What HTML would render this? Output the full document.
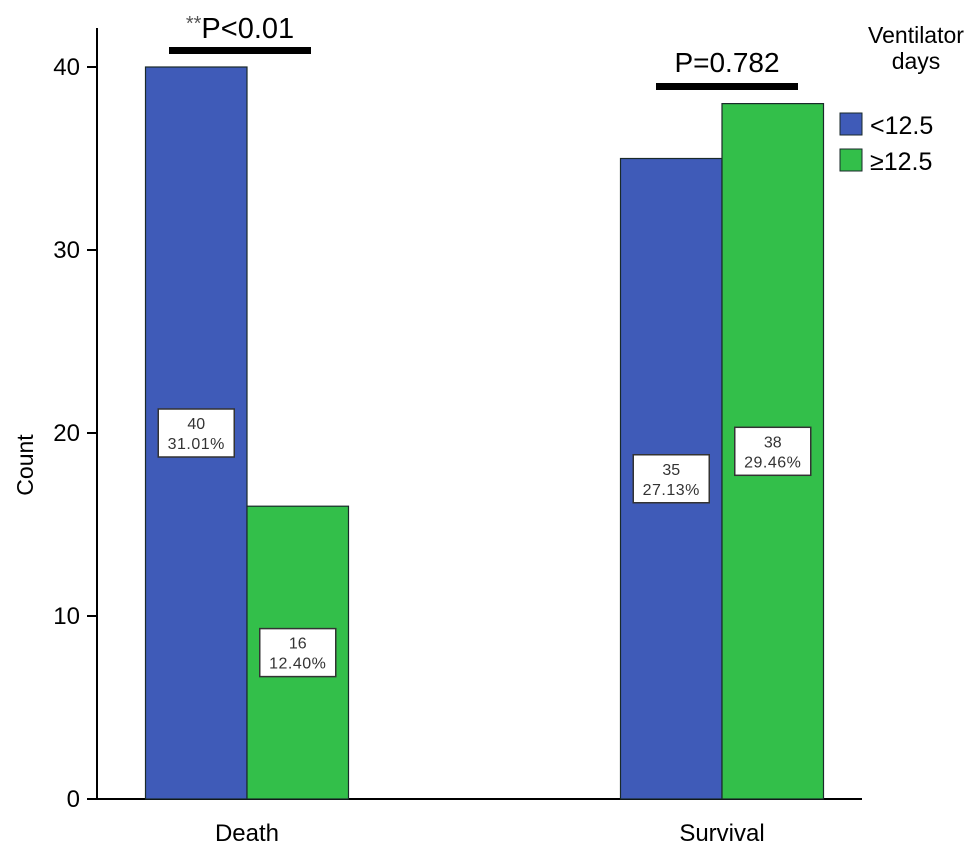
<!DOCTYPE html>
<html><head><meta charset="utf-8"><style>
body{margin:0;background:#fff;}
svg{display:block;font-family:"Liberation Sans",Arial,sans-serif;}
</style></head><body>
<svg id="chart" width="969" height="857"></svg>
<script>
const categories=["Death","Survival"];
const seriesNames=["<12.5","≥12.5"];
const lowValues=[40,35];
const highValues=[16,38];
const lowPct=["31.01%","27.13%"];
const highPct=["12.40%","29.46%"];
const yTicks=[0,10,20,30,40];
const colors=["#3f5bb8","#33bf4a"];
const NS="http://www.w3.org/2000/svg";
const svg=document.getElementById('chart');
function y(v){return 799-v*18.3;}
const catCenter=[247,722];
function mk(t,a,p){const e=document.createElementNS(NS,t);for(const k in a)e.setAttribute(k,a[k]);(p||svg).appendChild(e);return e;}
let ax=mk('line',{x1:97,y1:28,x2:97,y2:800,stroke:'#000','stroke-width':2});


let bx=mk('line',{x1:96,y1:799,x2:862,y2:799,stroke:'#000','stroke-width':2});


yTicks.forEach(t=>{
 const l=mk('line',{x1:87,y1:y(t),x2:97,y2:y(t),stroke:'#000','stroke-width':2});
 
 
 const tx=mk('text',{x:80,y:y(t)+8,'text-anchor':'end','font-size':24});
 tx.textContent=t;
 
 
});
const yt=mk('text',{x:0,y:0,'font-size':23,'text-anchor':'middle',transform:'translate(33,465) rotate(-90)'});
yt.textContent='Count';


const barW=101.5;
function bar(ci,si,v,pct){
 const x0=catCenter[ci]-barW+si*barW;
 const r=mk('rect',{x:x0,y:y(v),width:barW,height:799-y(v),fill:colors[si],stroke:'#1a2a2a','stroke-width':1.2});
 
 
 const cy=y(v/2);const cx=x0+barW/2;
 const b=mk('rect',{x:cx-38,y:cy-24,width:76,height:48,fill:'#fff',stroke:'#333','stroke-width':1.5});
 
 
 const t1=mk('text',{x:cx,y:cy-4,'text-anchor':'middle','font-size':16,fill:'#333'});t1.textContent=v;
 
 
 const t2=mk('text',{x:cx,y:cy+16,'text-anchor':'middle','font-size':16,fill:'#333','letter-spacing':'0.5'});t2.textContent=pct;
 
 
}
categories.forEach((c,i)=>{
 bar(i,0,lowValues[i],lowPct[i]);
 bar(i,1,highValues[i],highPct[i]);
 const t=mk('text',{x:catCenter[i],y:841,'text-anchor':'middle','font-size':24});t.textContent=c;
 
 
});
const s1=mk('rect',{x:169,y:47,width:142,height:7,fill:'#000'});


const st1=mk('text',{x:240,y:38,'text-anchor':'middle','font-size':29});
st1.innerHTML='<tspan font-size="20" dy="-8" fill="#555">**</tspan><tspan dy="8">P&lt;0.01</tspan>';


const s2=mk('rect',{x:656,y:83,width:142,height:7,fill:'#000'});


const st2=mk('text',{x:727,y:72,'text-anchor':'middle','font-size':28});st2.textContent='P=0.782';


const lt1=mk('text',{x:916,y:43,'text-anchor':'middle','font-size':23});lt1.textContent='Ventilator';


const lt2=mk('text',{x:916,y:69,'text-anchor':'middle','font-size':23});lt2.textContent='days';


seriesNames.forEach((n,i)=>{
 const yy=113+i*36;
 const r=mk('rect',{x:840,y:yy,width:22,height:22,fill:colors[i],stroke:'#1a2a2a','stroke-width':1});
 
 
 const t=mk('text',{x:870,y:yy+21,'font-size':25});t.textContent=n;
 
 
});
</script>
</body></html>
